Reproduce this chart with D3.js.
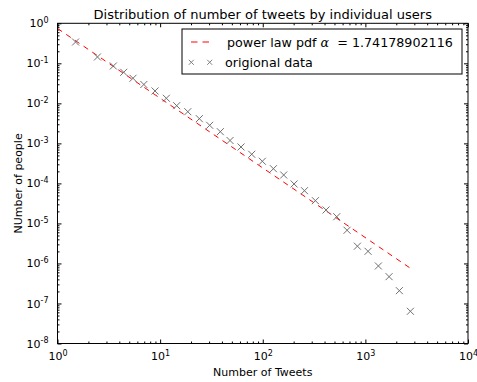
<!DOCTYPE html>
<html>
<head>
<meta charset="utf-8">
<script src="https://cdn.jsdelivr.net/npm/d3@7"></script>
<style>
  body { margin: 0; background: #fff; }
  text { font-family: "DejaVu Sans", sans-serif; fill: #000; white-space: pre; }
</style>
</head>
<body>
<div id="vis"></div>
<script>
// frame
const FRAME_WIDTH = 477;
const FRAME_HEIGHT = 382;
const MARGINS = {left: 57.5, right: 9, top: 23.3, bottom: 38.5};

// data (log-binned tweet counts)
const tweets = [1.50, 2.45, 3.50, 4.42, 5.44, 6.94, 8.92, 11.5, 14.5, 18.6,
                24.1, 30.4, 38.6, 48.0, 61.4, 78.1, 99.1, 127, 160, 202,
                255, 326, 414, 526, 663, 836, 1062, 1339, 1702, 2144, 2746];
const people = [0.341, 0.144, 0.0858, 0.0597, 0.0423, 0.0296, 0.0204, 0.0134, 0.00874, 0.00619,
                0.00414, 0.00283, 0.00196, 0.00118, 8.13e-4, 5.34e-4, 3.57e-4, 2.33e-4, 1.62e-4, 9.67e-5,
                6.58e-5, 3.70e-5, 2.17e-5, 1.47e-5, 6.75e-6, 2.70e-6, 2.01e-6, 8.65e-7, 4.68e-7, 2.09e-7, 6.38e-8];

// fitted power law (straight in log-log), end points
const fitX = [1, 2950];
const fitY = [0.742, 6.7e-7];

const xTicks = [1, 10, 100, 1000, 10000];
const yTicks = [1, 1e-1, 1e-2, 1e-3, 1e-4, 1e-5, 1e-6, 1e-7, 1e-8];

const TITLE = "Distribution of number of tweets by individual users";
const X_LABEL = "Number of Tweets";
const Y_LABEL = "NUmber of people";
const FIT_LABEL = "power law pdf ";
const ALPHA = "1.74178902116";
const DATA_LABEL = "origional data";

const VIS_WIDTH = FRAME_WIDTH - MARGINS.left - MARGINS.right;
const VIS_HEIGHT = FRAME_HEIGHT - MARGINS.top - MARGINS.bottom;

const FRAME = d3.select("#vis")
  .append("svg")
    .attr("width", FRAME_WIDTH)
    .attr("height", FRAME_HEIGHT);

const X_SCALE = d3.scaleLog().domain([1, 1e4]).range([MARGINS.left, MARGINS.left + VIS_WIDTH]);
const Y_SCALE = d3.scaleLog().domain([1e-8, 1]).range([MARGINS.top + VIS_HEIGHT, MARGINS.top]);

// minor ticks 2..9 in every decade
function minors(ticks) {
  const out = [];
  ticks.forEach(t => { for (let k = 2; k <= 9; k++) out.push(t * k); });
  return out.filter(v => v < d3.max(ticks));
}
const xMinor = minors(xTicks);
const yMinor = minors(yTicks);

function supLabel(sel) {
  sel.each(function(d) {
    const t = d3.select(this);
    t.text("10");
    t.append("tspan")
      .attr("dy", "-0.55em")
      .attr("font-size", "8px")
      .text(Math.round(Math.log10(d)));
  });
}

function styleAxis(g) {
  g.select(".domain").remove();
  g.selectAll("line").attr("stroke", "#000");
}

const bottom = MARGINS.top + VIS_HEIGHT;
const right = MARGINS.left + VIS_WIDTH;

// x axes (bottom with labels, top ticks only)
FRAME.append("g").attr("transform", `translate(0,${bottom})`)
  .call(d3.axisBottom(X_SCALE).tickValues(xTicks).tickSizeInner(-4).tickPadding(9).tickFormat(""))
  .call(styleAxis)
  .call(g => g.selectAll(".tick text").attr("font-size", "11px").attr("fill", "#000").call(supLabel));
FRAME.append("g").attr("transform", `translate(0,${bottom})`)
  .call(d3.axisBottom(X_SCALE).tickValues(xMinor).tickSizeInner(-2).tickFormat(""))
  .call(styleAxis);
FRAME.append("g").attr("transform", `translate(0,${MARGINS.top})`)
  .call(d3.axisTop(X_SCALE).tickValues(xTicks).tickSizeInner(-4).tickFormat(""))
  .call(styleAxis);
FRAME.append("g").attr("transform", `translate(0,${MARGINS.top})`)
  .call(d3.axisTop(X_SCALE).tickValues(xMinor).tickSizeInner(-2).tickFormat(""))
  .call(styleAxis);

// y axes
FRAME.append("g").attr("transform", `translate(${MARGINS.left},0)`)
  .call(d3.axisLeft(Y_SCALE).tickValues(yTicks).tickSizeInner(-4).tickPadding(9).tickFormat(""))
  .call(styleAxis)
  .call(g => g.selectAll(".tick text").attr("font-size", "11px").attr("fill", "#000").call(supLabel));
FRAME.append("g").attr("transform", `translate(${MARGINS.left},0)`)
  .call(d3.axisLeft(Y_SCALE).tickValues(yMinor).tickSizeInner(-2).tickFormat(""))
  .call(styleAxis);
FRAME.append("g").attr("transform", `translate(${right},0)`)
  .call(d3.axisRight(Y_SCALE).tickValues(yTicks).tickSizeInner(-4).tickFormat(""))
  .call(styleAxis);
FRAME.append("g").attr("transform", `translate(${right},0)`)
  .call(d3.axisRight(Y_SCALE).tickValues(yMinor).tickSizeInner(-2).tickFormat(""))
  .call(styleAxis);

// fitted line
const fit = fitX.map((x, i) => ({x: x, y: fitY[i]}));
FRAME.append("path")
  .datum(fit)
  .attr("fill", "none")
  .attr("stroke", "#ff0000")
  .attr("stroke-width", 1)
  .attr("stroke-dasharray", "5.5,5")
  .attr("d", d3.line().x(d => X_SCALE(d.x)).y(d => Y_SCALE(d.y)));

// data markers
const S = 3.5;
const pts = tweets.map((x, i) => ({x: x, y: people[i]}));
FRAME.selectAll(".pt")
  .data(pts)
  .enter()
  .append("path")
    .attr("class", "pt")
    .attr("transform", d => `translate(${X_SCALE(d.x)},${Y_SCALE(d.y)})`)
    .attr("d", `M${-S},${-S}L${S},${S}M${-S},${S}L${S},${-S}`)
    .attr("stroke", "#707070")
    .attr("stroke-width", 1)
    .attr("fill", "none");

// frame border
FRAME.append("rect")
  .attr("x", MARGINS.left).attr("y", MARGINS.top)
  .attr("width", VIS_WIDTH).attr("height", VIS_HEIGHT)
  .attr("fill", "none").attr("stroke", "#000").attr("stroke-width", 1);

// legend
const LEG = FRAME.append("g").attr("transform", "translate(182,29)");
LEG.append("rect")
  .attr("width", 280).attr("height", 45)
  .attr("fill", "#fff").attr("stroke", "#000").attr("stroke-width", 1);
LEG.append("line")
  .attr("x1", 9).attr("x2", 28).attr("y1", 13).attr("y2", 13)
  .attr("stroke", "#ff0000").attr("stroke-dasharray", "6.5,5");
const lt = LEG.append("text").attr("x", 45).attr("y", 18).attr("font-size", "12.7px");
lt.append("tspan").text(FIT_LABEL);
lt.append("tspan").attr("font-style", "italic").attr("font-family", "DejaVu Serif").text("α");
lt.append("tspan").text("  = " + ALPHA);
LEG.selectAll(".lm")
  .data([9.3, 27.7])
  .enter()
  .append("path")
    .attr("transform", d => `translate(${d},33.3)`)
    .attr("d", `M${-2.5},${-2.5}L${2.5},${2.5}M${-2.5},${2.5}L${2.5},${-2.5}`)
    .attr("stroke", "#808080").attr("fill", "none");
LEG.append("text").attr("x", 43).attr("y", 38).attr("font-size", "12.7px").text(DATA_LABEL);

// title and axis labels
FRAME.append("text")
  .attr("x", (MARGINS.left + right) / 2).attr("y", 19)
  .attr("text-anchor", "middle").attr("font-size", "13px").text(TITLE);
FRAME.append("text")
  .attr("x", (MARGINS.left + right) / 2).attr("y", 376)
  .attr("text-anchor", "middle").attr("font-size", "11px").text(X_LABEL);
FRAME.append("text")
  .attr("transform", `translate(22,${(MARGINS.top + bottom) / 2}) rotate(-90)`)
  .attr("text-anchor", "middle").attr("font-size", "11px").text(Y_LABEL);
</script>
</body>
</html>
